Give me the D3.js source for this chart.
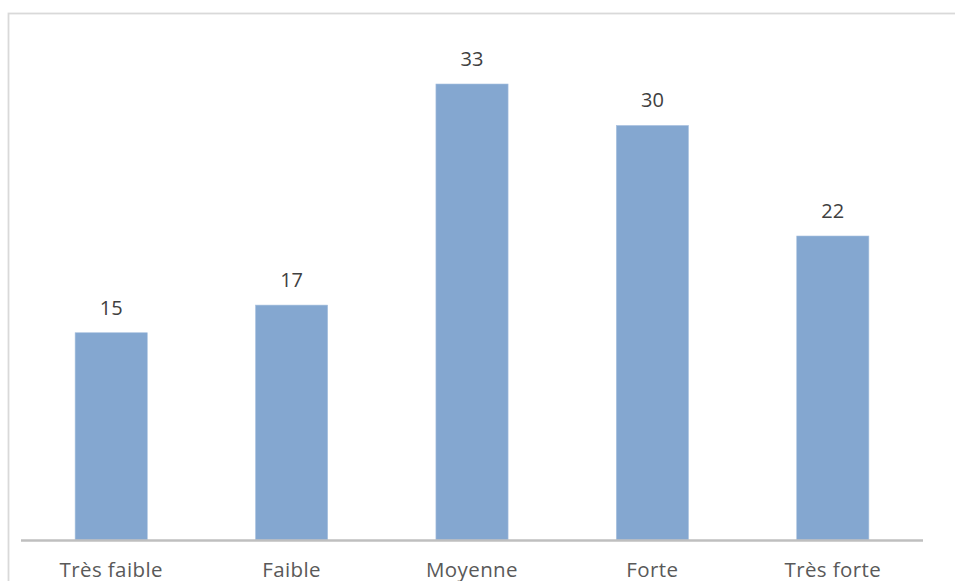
<!DOCTYPE html>
<html><head><meta charset="utf-8">
<script src="https://cdn.jsdelivr.net/npm/d3@7"></script>
<style>html,body{margin:0;padding:0;background:#fff;overflow:hidden}</style>
</head><body>
<svg id="c" width="955" height="581"></svg>
<script>
const categories = ["Très faible", "Faible", "Moyenne", "Forte", "Très forte"];
const values = [15, 17, 33, 30, 22];

const svg = d3.select("#c");
const font = "'Open Sans', sans-serif";

// frame
svg.append("rect").attr("x", 8.5).attr("y", 13.5).attr("width", 1000).attr("height", 700)
  .attr("fill", "none").attr("stroke", "#d9d9d9").attr("stroke-width", 1.8);

const x = d3.scaleBand().domain(categories).range([21, 923]).paddingInner(0.6).paddingOuter(0.3);
const y = d3.scaleLinear().domain([0, 33]).range([540, 84]);

svg.selectAll("rect.bar").data(values).enter().append("rect").attr("class", "bar")
  .attr("x", (d, i) => x(categories[i]))
  .attr("y", d => y(d))
  .attr("width", x.bandwidth())
  .attr("height", d => y(0) - y(d))
  .attr("fill", "#84a7d0")
  .attr("stroke", "#a9c1df").attr("stroke-width", 0.6);

svg.selectAll("text.val").data(values).enter().append("text").attr("class", "val")
  .attr("x", (d, i) => x(categories[i]) + x.bandwidth() / 2)
  .attr("y", d => y(d) - 18)
  .attr("text-anchor", "middle")
  .attr("font-family", font).attr("font-size", 20).attr("fill", "#404040")
  .text(d => d);

const axis = d3.axisBottom(x).tickSize(0).tickPadding(0);
const g = svg.append("g").attr("transform", "translate(0,540.5)").call(axis);
g.select(".domain").attr("stroke", "#bfbfbf").attr("stroke-width", 2.5).attr("d", "M21,0H923");
g.selectAll(".tick text").attr("font-family", font).attr("font-size", 20.5).attr("fill", "#595959")
  .attr("letter-spacing", 0.4)
  .attr("dy", null).attr("y", 36);
</script>
</body></html>
